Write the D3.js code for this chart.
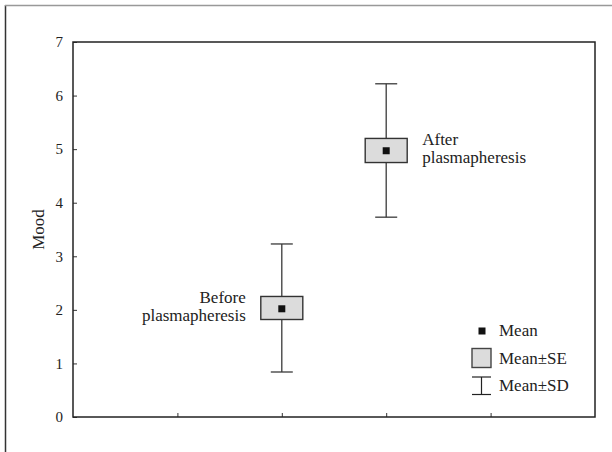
<!DOCTYPE html>
<html>
<head>
<meta charset="utf-8">
<script src="https://cdn.jsdelivr.net/npm/d3@7"></script>
<style>
  body { margin: 0; background: #fff; }
  svg { display: block; }
  svg text { font-family: "Liberation Serif", "DejaVu Serif", serif; }
</style>
</head>
<body>
<svg id="chart" width="612" height="452"></svg>
<script>
// group data
const groups = ["Before plasmapheresis", "After plasmapheresis"];
const xPos = [2, 3];
const means = [2.02, 4.97];
const seLow = [1.82, 4.75];
const seHigh = [2.25, 5.20];
const sdLow = [0.84, 3.73];
const sdHigh = [3.23, 6.22];
const yTicks = [0, 1, 2, 3, 4, 5, 6, 7];
const xTicks = [1, 2, 3, 4];
const legendLabels = ["Mean", "Mean\u00b1SE", "Mean\u00b1SD"];

const serif = "Liberation Serif, DejaVu Serif, serif";
const svg = d3.select("#chart").attr("font-family", serif);
const margin = { top: 42, right: 17, bottom: 35, left: 73 };
const width = 612 - margin.left - margin.right;
const height = 452 - margin.top - margin.bottom;

// outer page frame (only left and top edges show)
svg.append("line").attr("x1", 5.5).attr("x2", 5.5).attr("y1", 5).attr("y2", 452)
  .attr("stroke", "#333").attr("stroke-width", 1.5);
svg.append("line").attr("x1", 5).attr("x2", 612).attr("y1", 5.5).attr("y2", 5.5)
  .attr("stroke", "#999").attr("stroke-width", 1.5);

const g = svg.append("g").attr("transform", `translate(${margin.left},${margin.top})`);

const x = d3.scaleLinear().domain([0, 5]).range([0, width]);
const y = d3.scaleLinear().domain([0, 7]).range([height, 0]);

// y axis, ticks pointing inwards
const yAxis = g.append("g")
  .call(d3.axisLeft(y).tickValues(yTicks).tickFormat(d3.format("d"))
    .tickSizeInner(-4).tickSizeOuter(0).tickPadding(10))
  .attr("font-family", serif);
yAxis.select(".domain").remove();
yAxis.selectAll("line").attr("stroke", "#333");
yAxis.selectAll("text").attr("font-size", 15).attr("fill", "#222");

// x axis, unlabeled inward ticks
const xAxis = g.append("g").attr("transform", `translate(0,${height})`)
  .call(d3.axisBottom(x).tickValues(xTicks).tickFormat("")
    .tickSizeInner(-4).tickSizeOuter(0));
xAxis.select(".domain").remove();
xAxis.selectAll("line").attr("stroke", "#333");

// plot frame
g.append("rect").attr("x", 0).attr("y", 0).attr("width", width).attr("height", height)
  .attr("fill", "none").attr("stroke", "#222").attr("stroke-width", 1.5);

// y title
svg.append("text")
  .attr("transform", `translate(44,${margin.top + height / 2}) rotate(-90)`)
  .attr("text-anchor", "middle").attr("font-size", 17).attr("fill", "#222")
  .text("Mood");

const boxW = 42, capW = 22, markSize = 7;
const idx = d3.range(groups.length);
const lineColor = "#3a3a3a";

// whiskers (mean ± SD)
g.selectAll(".whisker").data(idx).enter().append("line")
  .attr("x1", i => x(xPos[i])).attr("x2", i => x(xPos[i]))
  .attr("y1", i => y(sdLow[i])).attr("y2", i => y(sdHigh[i]))
  .attr("stroke", lineColor).attr("stroke-width", 1.3);
g.selectAll(".capLow").data(idx).enter().append("line")
  .attr("x1", i => x(xPos[i]) - capW / 2).attr("x2", i => x(xPos[i]) + capW / 2)
  .attr("y1", i => y(sdLow[i])).attr("y2", i => y(sdLow[i]))
  .attr("stroke", lineColor).attr("stroke-width", 1.3);
g.selectAll(".capHigh").data(idx).enter().append("line")
  .attr("x1", i => x(xPos[i]) - capW / 2).attr("x2", i => x(xPos[i]) + capW / 2)
  .attr("y1", i => y(sdHigh[i])).attr("y2", i => y(sdHigh[i]))
  .attr("stroke", lineColor).attr("stroke-width", 1.3);

// boxes (mean ± SE)
g.selectAll(".box").data(idx).enter().append("rect")
  .attr("x", i => x(xPos[i]) - boxW / 2).attr("width", boxW)
  .attr("y", i => y(seHigh[i])).attr("height", i => y(seLow[i]) - y(seHigh[i]))
  .attr("fill", "#dcdcdc").attr("stroke", "#333").attr("stroke-width", 1.4);

// mean markers
g.selectAll(".mean").data(idx).enter().append("rect")
  .attr("x", i => x(xPos[i]) - markSize / 2).attr("y", i => y(means[i]) - markSize / 2)
  .attr("width", markSize).attr("height", markSize).attr("fill", "#111");

// group labels: first to the left of its box, second to the right
idx.forEach(i => {
  const left = i === 0;
  const words = groups[i].split(" ");
  const t = g.append("text")
    .attr("x", left ? x(xPos[i]) - boxW / 2 - 15 : x(xPos[i]) + boxW / 2 + 15)
    .attr("y", y(means[i]) - 5.5)
    .attr("text-anchor", left ? "end" : "start")
    .attr("font-size", 17).attr("fill", "#222");
  words.forEach((w, k) => {
    t.append("tspan").attr("x", t.attr("x")).attr("dy", k === 0 ? 0 : 18).text(w);
  });
});

// legend
const lg = svg.append("g").attr("transform", "translate(482,0)");
lg.append("rect").attr("x", -3.5).attr("y", 327.5).attr("width", 7).attr("height", 7).attr("fill", "#111");
lg.append("rect").attr("x", -10).attr("y", 348.5).attr("width", 19).attr("height", 19)
  .attr("fill", "#dcdcdc").attr("stroke", "#444").attr("stroke-width", 1.4);
lg.append("line").attr("x1", -0.5).attr("x2", -0.5).attr("y1", 377).attr("y2", 394.5)
  .attr("stroke", "#222").attr("stroke-width", 1.2);
lg.append("line").attr("x1", -10).attr("x2", 9).attr("y1", 377).attr("y2", 377)
  .attr("stroke", "#222").attr("stroke-width", 1.2);
lg.append("line").attr("x1", -10).attr("x2", 9).attr("y1", 394.5).attr("y2", 394.5)
  .attr("stroke", "#222").attr("stroke-width", 1.2);
lg.selectAll(".lt").data(legendLabels).enter().append("text")
  .attr("x", 17).attr("y", (d, k) => [336, 364, 391][k])
  .attr("font-size", 17).attr("fill", "#222").text(d => d);
</script>
</body>
</html>
